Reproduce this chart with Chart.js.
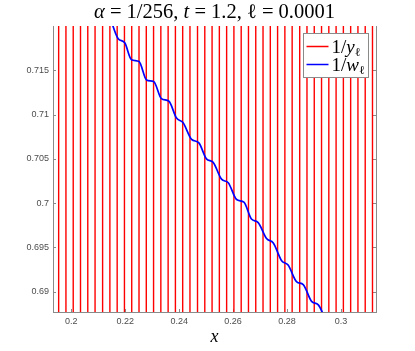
<!DOCTYPE html>
<html>
<head>
<meta charset="utf-8">
<script src="https://cdn.jsdelivr.net/npm/chart.js@4"></script>
<style>
  html, body { margin: 0; padding: 0; background: #fff; }
</style>
</head>
<body>
<canvas id="myChart" width="415" height="351"></canvas>
<script>
// x positions of the red 1/y_l lines
const redX = [0.1953, 0.1980, 0.2007, 0.2034, 0.2061, 0.2088, 0.2116, 0.2143, 0.2170, 0.2197,
              0.2224, 0.2251, 0.2278, 0.2305, 0.2332, 0.2359, 0.2386, 0.2413, 0.2440, 0.2468,
              0.2495, 0.2522, 0.2549, 0.2576, 0.2603, 0.2630, 0.2657, 0.2684, 0.2711, 0.2738,
              0.2765, 0.2792, 0.2819, 0.2847, 0.2874, 0.2901, 0.2928, 0.2955, 0.2982, 0.3009,
              0.3036, 0.3063, 0.3090, 0.3117];

// blue 1/w_l curve (step corners)
const blueX = [0.2144, 0.2173, 0.2198, 0.2223, 0.2251, 0.2279, 0.2306, 0.2334, 0.2362, 0.2390,
               0.2414, 0.2446, 0.2473, 0.2501, 0.2526, 0.2557, 0.2582, 0.2613, 0.2640, 0.2668,
               0.2693, 0.2724, 0.2749, 0.2780, 0.2804, 0.2836, 0.2860, 0.2891, 0.2916, 0.2941];
const blueY = [0.7209, 0.7186, 0.7181, 0.7162, 0.7160, 0.7139, 0.7137, 0.7118, 0.7115, 0.7096,
               0.7091, 0.7072, 0.7068, 0.7050, 0.7046, 0.7027, 0.7023, 0.7004, 0.7001, 0.6982,
               0.6978, 0.6960, 0.6955, 0.6935, 0.6930, 0.6911, 0.6908, 0.6889, 0.6885, 0.6870];

const xTicks = [0.2, 0.22, 0.24, 0.26, 0.28, 0.3];
const xTickLabels = ['0.2', '0.22', '0.24', '0.26', '0.28', '0.3'];
const yTicks = [0.69, 0.695, 0.7, 0.705, 0.71, 0.715];
const yTickLabels = ['0.69', '0.695', '0.7', '0.705', '0.71', '0.715'];
const xRange = [0.1932, 0.3130];
const yRange = [0.6877, 0.7200];

const seriesLabels = ['1/yℓ', '1/wℓ'];
const seriesColors = ['rgb(255,0,0)', 'rgb(0,0,255)'];
// title pieces: [text, italic?]
const titleParts = [['α', true], [' = 1/256, ', false], ['t', true], [' = 1.2, ', false], ['ℓ', false], [' = 0.0001', false]];
const xLabel = 'x';

const serif = "'Liberation Serif', 'DejaVu Serif', serif";
const sans = "'Liberation Sans', Arial, sans-serif";

// vertical red lines, broken apart with null points
var redData = [];
redX.forEach(x => {
    redData.push({x: x, y: yRange[0]});
    redData.push({x: x, y: yRange[1]});
    redData.push({x: x, y: null});
});
var blueData = blueX.map((x, i) => ({x: x, y: blueY[i]}));

function drawParts(ctx, parts, x, y) {
    parts.forEach(p => {
        ctx.font = (p.italic ? 'italic ' : '') + p.size + 'px ' + serif;
        ctx.fillText(p.t, x, y + (p.dy || 0));
        x += ctx.measureText(p.t).width;
    });
}
function partsWidth(ctx, parts) {
    var w = 0;
    parts.forEach(p => {
        ctx.font = (p.italic ? 'italic ' : '') + p.size + 'px ' + serif;
        w += ctx.measureText(p.t).width;
    });
    return w;
}

const decor = {
    id: 'decor',
    beforeDatasetsDraw(chart) {
        // inward tick marks, matlab style
        const ctx = chart.ctx, a = chart.chartArea;
        const xs = chart.scales.x, ys = chart.scales.y;
        ctx.save();
        ctx.strokeStyle = '#8a8a8a';
        ctx.lineWidth = 1;
        ctx.beginPath();
        yTicks.forEach(v => {
            const py = Math.round(ys.getPixelForValue(v)) + 0.5;
            ctx.moveTo(a.left, py); ctx.lineTo(a.left + 3, py);
            ctx.moveTo(a.right, py); ctx.lineTo(a.right - 3, py);
        });
        xTicks.forEach(v => {
            const px = Math.round(xs.getPixelForValue(v)) + 0.5;
            ctx.moveTo(px, a.bottom); ctx.lineTo(px, a.bottom - 3);
        });
        ctx.stroke();
        ctx.restore();
    },
    afterDatasetsDraw(chart) {
        const ctx = chart.ctx, a = chart.chartArea;
        ctx.save();
        // right box edge
        ctx.strokeStyle = '#8a8a8a';
        ctx.lineWidth = 1;
        ctx.beginPath();
        ctx.moveTo(Math.round(a.right) + 0.5, a.top);
        ctx.lineTo(Math.round(a.right) + 0.5, a.bottom);
        ctx.stroke();

        // legend inside the plot, top right
        const bw = 65, bh = 44;
        const bx = Math.round(a.right) - 8 - bw + 0.5, by = Math.round(a.top) + 7 + 0.5;
        ctx.fillStyle = '#fff';
        ctx.fillRect(bx, by, bw, bh);
        ctx.strokeStyle = '#8a8a8a';
        ctx.strokeRect(bx, by, bw, bh);
        const rows = [13, 31];
        seriesLabels.forEach((lab, i) => {
            const ly = by + rows[i];
            ctx.strokeStyle = seriesColors[i];
            ctx.lineWidth = 1.5;
            ctx.beginPath();
            ctx.moveTo(bx + 3, ly); ctx.lineTo(bx + 25, ly);
            ctx.stroke();
            ctx.fillStyle = '#000';
            ctx.textBaseline = 'alphabetic';
            drawParts(ctx, [
                {t: lab.slice(0, -2), italic: false, size: 19},
                {t: lab.slice(-2, -1), italic: true, size: 19},
                {t: lab.slice(-1), italic: false, size: 12, dy: 3}
            ], bx + 28, ly + 6);
        });

        // title
        const parts = titleParts.map(p => ({t: p[0], italic: p[1], size: 20.5}));
        const w = partsWidth(ctx, parts);
        ctx.fillStyle = '#000';
        ctx.textBaseline = 'alphabetic';
        drawParts(ctx, parts, (a.left + a.right) / 2 - w / 2, 18);
        ctx.restore();
    }
};

const ctx = document.getElementById('myChart');

new Chart(ctx, {
    type: 'line',
    data: {
        datasets: [{
            label: seriesLabels[0],
            data: redData,
            borderColor: seriesColors[0],
            borderWidth: 1.4,
            pointRadius: 0,
            spanGaps: false,
            tension: 0,
            order: 1
        }, {
            label: seriesLabels[1],
            data: blueData,
            borderColor: seriesColors[1],
            borderWidth: 1.7,
            pointRadius: 0,
            cubicInterpolationMode: 'monotone',
            order: 0
        }]
    },
    options: {
        responsive: false,
        animation: false,
        devicePixelRatio: 1,
        layout: { padding: { left: 0, right: 39, top: 26, bottom: 0 } },
        plugins: {
            legend: { display: false },
            title: { display: false },
            tooltip: { enabled: false }
        },
        scales: {
            x: {
                type: 'linear',
                min: xRange[0],
                max: xRange[1],
                grid: { display: false, drawTicks: false },
                border: { display: true, color: '#8a8a8a', width: 1 },
                afterBuildTicks: s => { s.ticks = xTicks.map(v => ({value: v})); },
                afterFit: s => { s.height = 39; },
                ticks: {
                    callback: (v, i) => xTickLabels[i],
                    font: { family: sans, size: 9 },
                    color: '#4d4d4d',
                    padding: 4,
                    maxRotation: 0,
                    autoSkip: false
                },
                title: {
                    display: true,
                    text: xLabel,
                    font: { family: serif, size: 18, style: 'italic' },
                    color: '#000',
                    padding: { top: 0, bottom: 3 }
                }
            },
            y: {
                type: 'linear',
                min: yRange[0],
                max: yRange[1],
                grid: { display: false, drawTicks: false },
                border: { display: true, color: '#8a8a8a', width: 1 },
                afterBuildTicks: s => { s.ticks = yTicks.map(v => ({value: v})); },
                afterFit: s => { s.width = 53; },
                ticks: {
                    callback: (v, i) => yTickLabels[i],
                    font: { family: sans, size: 9 },
                    color: '#4d4d4d',
                    padding: 4,
                    autoSkip: false
                }
            }
        }
    },
    plugins: [decor]
});
</script>
</body>
</html>
